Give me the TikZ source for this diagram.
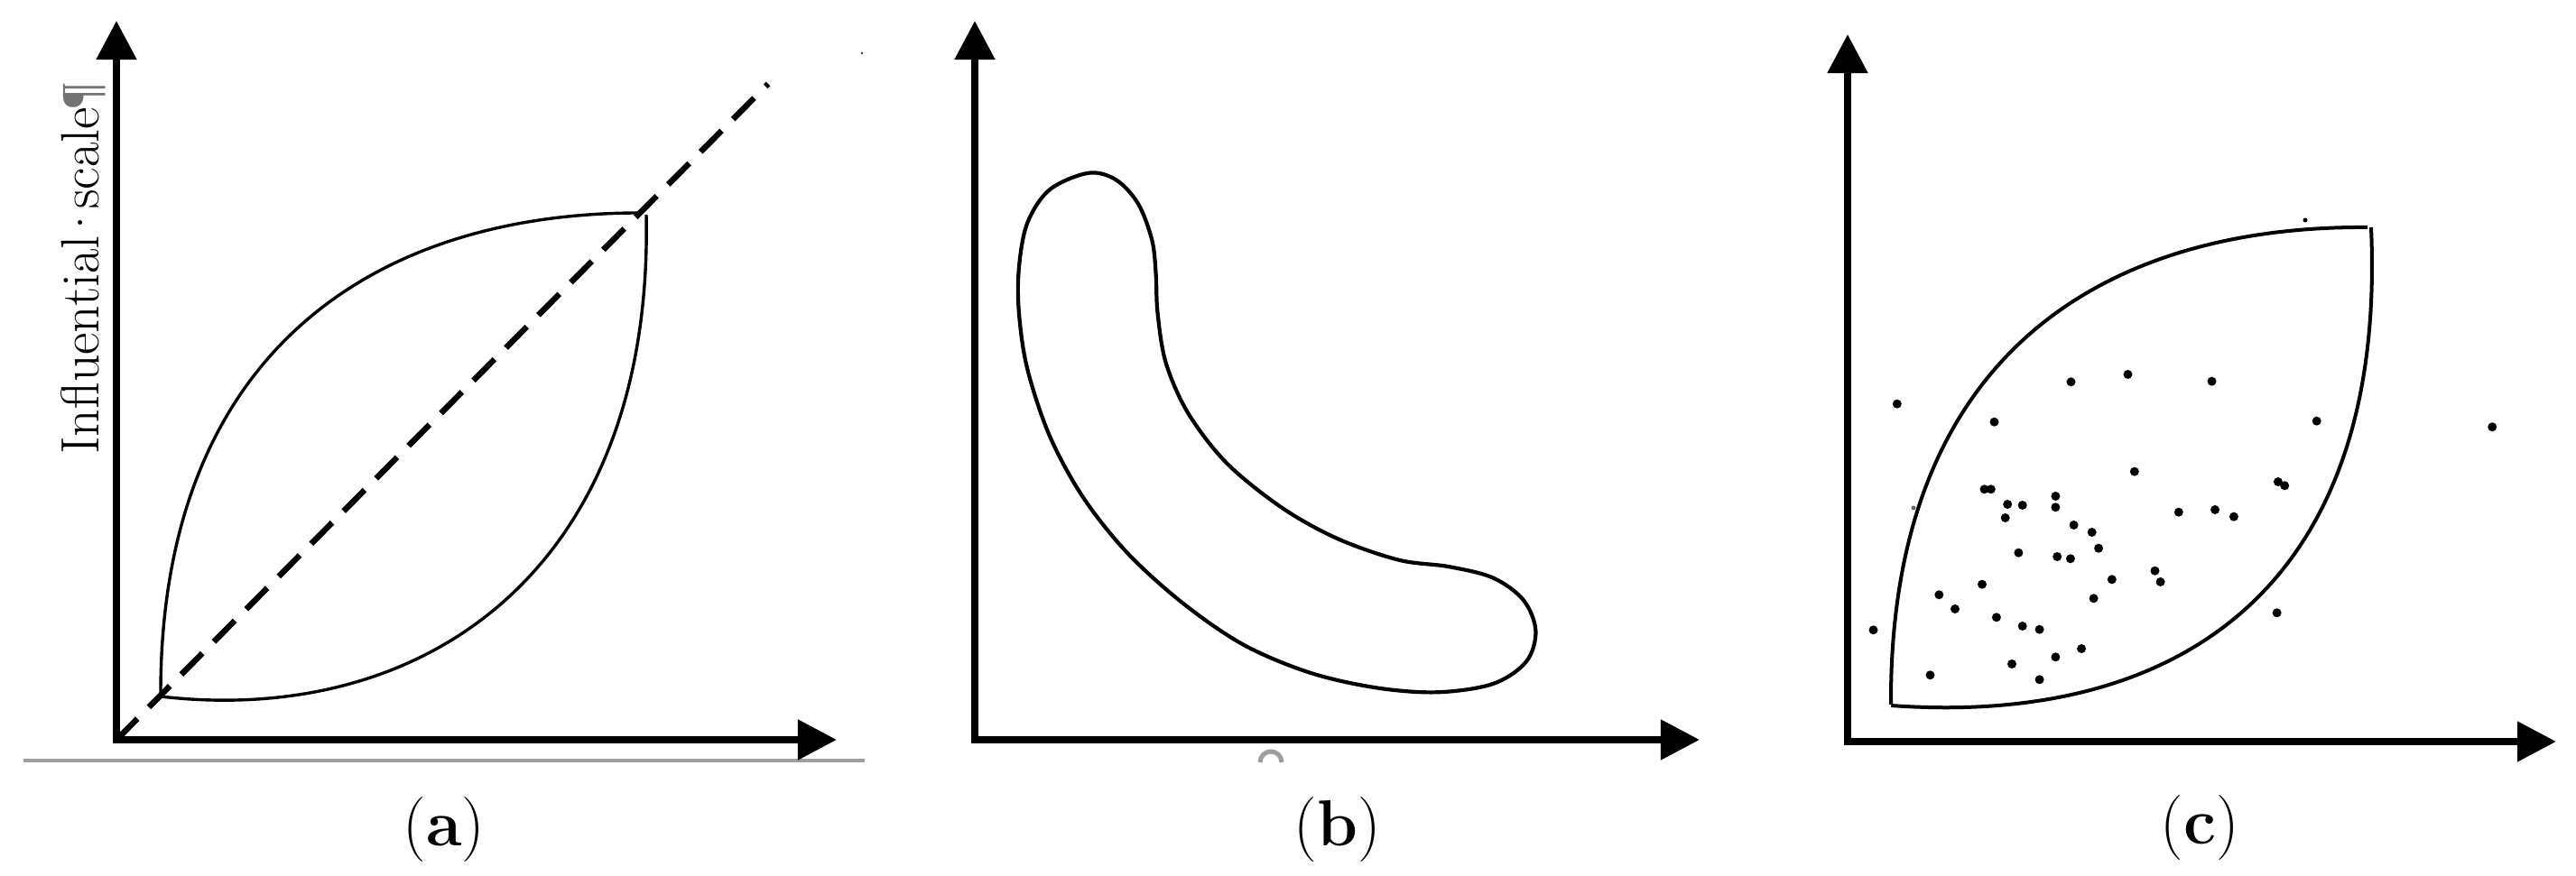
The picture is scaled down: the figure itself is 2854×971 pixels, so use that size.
\documentclass[tikz,border=0pt]{standalone}
\usepackage{fontspec}
\newfontfamily\pilfont{Liberation Serif}
\usetikzlibrary{arrows.meta}
\tikzset{
  axis/.style={line width=0.08cm, line join=miter,
    {Triangle[length=0.43cm,width=0.43cm]}-{Triangle[length=0.43cm,width=0.43cm]}},
  outline/.style={line width=0.034cm},
  diag/.style={line width=0.065cm, dash pattern=on 0.33cm off 0.18cm},
  lbl/.style={anchor=base, inner sep=0pt, font=\fontsize{20.5}{24}\selectfont},
  ylbl/.style={anchor=base, inner sep=0pt, rotate=90, font=\fontsize{17}{20}\selectfont},
}
\begin{document}
\begin{tikzpicture}[x=0.01cm,y=-0.01cm]
\fill[white] (0,0) rectangle (2854,971);
\useasboundingbox (0,0) rectangle (2854,971);

% ---------- panel (a) ----------
\coordinate (oa) at (129,820);
\coordinate (ya) at (129,23);
\coordinate (xa) at (927,820);
\draw[color=black!38, line width=0.04cm] (26,843) -- (958,843);
\fill[black!70] (955,59) circle[radius=0.015cm];
\draw[outline] (178,771) .. controls (177,395) and (410,235) .. (712,236);
\draw[outline] (178,772) .. controls (470,806) and (724,632) .. (716,238);
\coordinate (da) at (851,93);
\draw[diag] (oa) -- (da);
\draw[axis] (ya) -- (oa) -- (xa);
\node[ylbl] (ta) at (109,298) {Influential\kern-0.11em·\kern-0.11emscale{\pilfont\color{black!55}¶}};
\node[lbl] (la) at (492,938) {(\textbf{a})};

% ---------- panel (b) ----------
\coordinate (ob) at (1080,820);
\coordinate (yb) at (1080,23);
\coordinate (xb) at (1883,820);
\draw[color=black!38, line width=0.05cm] (1396,845) arc[start angle=180, end angle=0, radius=0.12cm];
\draw[line width=0.042cm] plot[smooth cycle, tension=0.55] coordinates {
 (1205.7,191.8) (1236.4,199.3) (1261.0,225.9) (1276.3,266.1) (1280.6,303.2)
 (1282.5,346.5) (1291.7,402.2) (1316.3,457.9) (1359.3,513.6) (1420.7,563.1)
 (1482.1,597.2) (1549.7,620.7) (1605.0,628.1) (1654.1,640.5) (1687.9,665.2)
 (1701.4,699.3) (1691.0,733.3) (1654.1,758.0) (1592.7,767.3) (1525.1,762.4)
 (1451.4,745.7) (1377.7,714.7) (1310.1,668.3) (1248.7,612.6) (1199.6,550.7)
 (1162.7,482.7) (1138.1,408.4) (1128.9,346.5) (1128.9,297.0) (1138.1,247.5)
 (1162.7,210.4)};
\draw[axis] (yb) -- (ob) -- (xb);
\node[lbl] (lb) at (1482,938) {(\textbf{b})};

% ---------- panel (c) ----------
\coordinate (oc) at (2047,822);
\coordinate (yc) at (2047,38);
\coordinate (xc) at (2832,822);
\draw[line width=0.04cm] (2095,781) .. controls (2093,385) and (2340,250) .. (2623,252);
\draw[line width=0.04cm] (2095,782) .. controls (2410,805) and (2645,655) .. (2627,252);
\foreach \x/\y in {2294.5/423.3, 2357.5/415, 2450.5/422.7, 2101.8/447.7, 2209.5/467.7,
  2566.7/466.7, 2761.2/473.3, 2364.8/522.7, 2523.9/534, 2531.2/538.3, 2198.5/542.3,
  2205.8/542.3, 2277.4/550, 2224.2/559, 2240.7/560, 2277.4/562.3, 2413.8/567.7,
  2454.1/565, 2474.9/572.7, 2221.7/574, 2297.6/582, 2317.7/590, 2325.1/607.7,
  2236.4/612.7, 2279.2/617, 2293.9/619.3, 2387.5/632.7, 2393.6/645, 2339.8/642.3,
  2196/647.7, 2148.3/659.3, 2319.6/663.3, 2166/675, 2522.6/679.3, 2211.9/684.3,
  2240.7/694, 2259.6/697.7, 2075.5/698.3, 2306.1/719, 2277.4/728.3, 2229/736,
  2138.5/748.3, 2259.6/753.3}
  \fill (\x,\y) circle[radius=0.05cm];
\fill (2554,244) circle[radius=0.025cm];
\fill[black!60] (2120,563) circle[radius=0.025cm];
\draw[axis] (yc) -- (oc) -- (xc);
\node[lbl] (lc) at (2437,936) {(\textbf{c})};
\end{tikzpicture}
\end{document}
